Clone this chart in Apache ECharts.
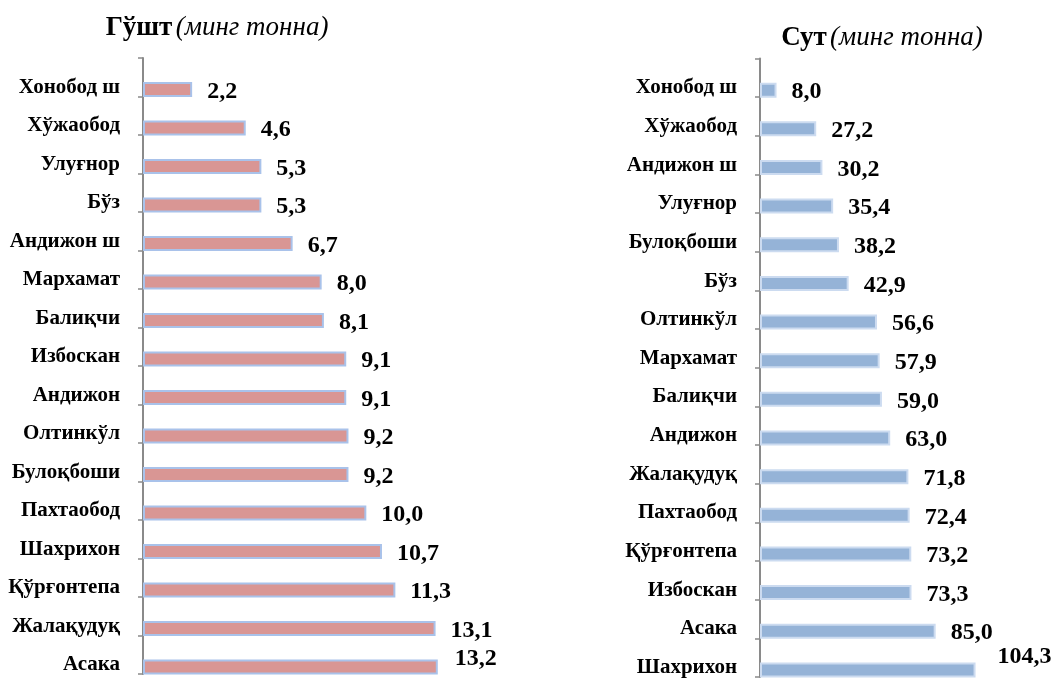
<!DOCTYPE html>
<html>
<head>
<meta charset="utf-8">
<script src="https://cdn.jsdelivr.net/npm/echarts@6/dist/echarts.min.js"></script>
<style>
  html, body { margin: 0; padding: 0; background: #fff; }
  #chart { width: 1054px; height: 678px; }
</style>
</head>
<body>
<div id="chart"></div>
<script>
// Гўшт (минг тонна), top to bottom
var meatDistricts = ['Хонобод ш', 'Хўжаобод', 'Улуғнор', 'Бўз', 'Андижон ш', 'Мархамат', 'Балиқчи', 'Избоскан',
    'Андижон', 'Олтинкўл', 'Булоқбоши', 'Пахтаобод', 'Шахрихон', 'Қўрғонтепа', 'Жалақудуқ', 'Асака']
var meatValues = [2.2, 4.6, 5.3, 5.3, 6.7, 8.0, 8.1, 9.1, 9.1, 9.2, 9.2, 10.0, 10.7, 11.3, 13.1, 13.2]

// Сут (минг тонна), top to bottom
var milkDistricts = ['Хонобод ш', 'Хўжаобод', 'Андижон ш', 'Улуғнор', 'Булоқбоши', 'Бўз', 'Олтинкўл', 'Мархамат',
    'Балиқчи', 'Андижон', 'Жалақудуқ', 'Пахтаобод', 'Қўрғонтепа', 'Избоскан', 'Асака', 'Шахрихон']
var milkValues = [8.0, 27.2, 30.2, 35.4, 38.2, 42.9, 56.6, 57.9, 59.0, 63.0, 71.8, 72.4, 73.2, 73.3, 85.0, 104.3]

var FONT = '"Liberation Serif", "Times New Roman", serif'
var axisGray = '#8a8a8a'

function fmt(v) { return v.toFixed(1).replace('.', ',') }

function catAxis(gridIndex, cats) {
    return {
        type: 'category',
        gridIndex: gridIndex,
        data: cats,
        inverse: true,
        axisLine: { show: true, lineStyle: { color: axisGray, width: 2 } },
        axisTick: { show: true, length: 5, lineStyle: { color: axisGray, width: 1.5 } },
        axisLabel: {
            color: '#000', fontFamily: FONT, fontWeight: 'bold', fontSize: 21,
            margin: 23, verticalAlign: 'top', lineHeight: 20, interval: 0
        }
    }
}

function valAxis(gridIndex, max) {
    return {
        type: 'value', gridIndex: gridIndex, min: 0, max: max, show: false,
        splitLine: { show: false }
    }
}

// empty series first pushes the visible bar down in its band (like the Excel chart)
function spacer(idx) {
    return {
        type: 'bar', xAxisIndex: idx, yAxisIndex: idx, barWidth: 15, barGap: '64%',
        silent: true, data: meatDistricts.map(() => null)
    }
}

// the bottom label sits a bit higher in the original, as Excel nudged it
function barSeries(idx, values, fill, border, lastOffset) {
    return {
        type: 'bar', xAxisIndex: idx, yAxisIndex: idx, barWidth: 15, barGap: '64%',
        itemStyle: { color: fill, borderColor: border, borderWidth: 2 },
        label: {
            show: true, position: 'right', distance: 15, offset: [0, 2],
            color: '#000', fontFamily: FONT, fontWeight: 'bold', fontSize: 24,
            formatter: p => fmt(p.value)
        },
        data: values.map((v, i) => i === values.length - 1 ? { value: v, label: { offset: lastOffset } } : v)
    }
}

var titleRich = {
    b: { fontFamily: FONT, fontWeight: 'bold', fontSize: 27, color: '#000' },
    i: { fontFamily: FONT, fontStyle: 'italic', fontSize: 27, color: '#000' }
}

var chart = echarts.init(document.getElementById('chart'))
chart.setOption({
    animation: false,
    graphic: [
        { type: 'text', x: 217, y: 28, style: { text: '{b|Гўшт} {i|(минг тонна)}', rich: titleRich, align: 'center', verticalAlign: 'middle' } },
        { type: 'text', x: 882, y: 38, style: { text: '{b|Сут} {i|(минг тонна)}', rich: titleRich, align: 'center', verticalAlign: 'middle' } }
    ],
    grid: [
        { left: 143, top: 58, width: 335, height: 616 },
        { left: 760, top: 58.5, width: 248, height: 622 }
    ],
    xAxis: [valAxis(0, 15), valAxis(1, 120)],
    yAxis: [catAxis(0, meatDistricts), catAxis(1, milkDistricts)],
    series: [
        spacer(0),
        barSeries(0, meatValues, '#D99694', '#A9C2EA', [2, -8]),
        spacer(1),
        barSeries(1, milkValues, '#95B3D7', '#CCDBF0', [7, -13])
    ]
})
</script>
</body>
</html>
